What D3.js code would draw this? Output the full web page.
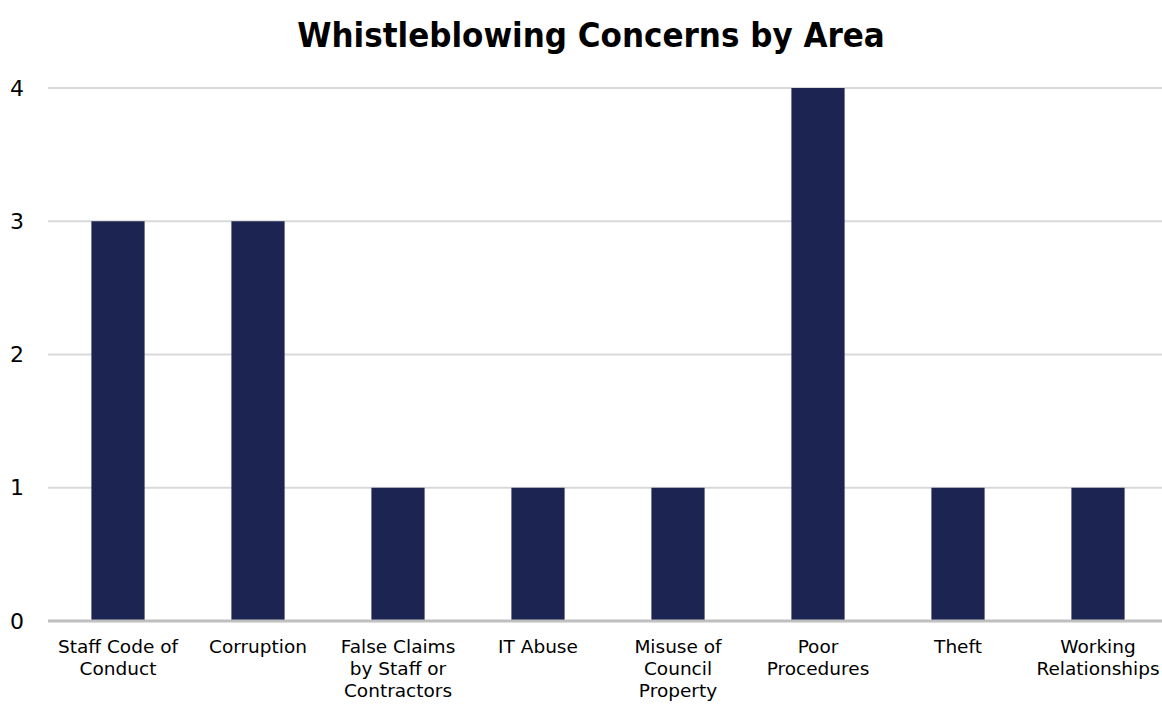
<!DOCTYPE html>
<html>
<head>
<meta charset="utf-8">
<script src="https://cdn.jsdelivr.net/npm/d3@7"></script>
<style>
  html, body { margin: 0; padding: 0; background: #ffffff; }
  svg { display: block; }
</style>
</head>
<body>
<svg id="chart" width="1162" height="704"></svg>
<script>
const title = "Whistleblowing Concerns by Area";
const categories = ["Staff Code of Conduct", "Corruption", "False Claims by Staff or Contractors", "IT Abuse", "Misuse of Council Property", "Poor Procedures", "Theft", "Working Relationships"];
const categoryLabelLines = [
  ["Staff Code of", "Conduct"],
  ["Corruption"],
  ["False Claims", "by Staff or", "Contractors"],
  ["IT Abuse"],
  ["Misuse of", "Council", "Property"],
  ["Poor", "Procedures"],
  ["Theft"],
  ["Working", "Relationships"]
];
const values = [3, 3, 1, 1, 1, 4, 1, 1];
const yTicks = [0, 1, 2, 3, 4];

const svg = d3.select("#chart");
const W = 1162, H = 704;
const margin = { left: 48, right: -6, top: 88, bottom: 83 };

const x = d3.scaleBand()
  .domain(categories)
  .range([margin.left, W - margin.right])
  .paddingInner(0.62)
  .paddingOuter(0.31);

const y = d3.scaleLinear()
  .domain([0, 4])
  .range([H - margin.bottom, margin.top]);

// gridlines
svg.append("g")
  .selectAll("line")
  .data(yTicks.filter(d => d !== 0))
  .join("line")
  .attr("x1", margin.left)
  .attr("x2", W)
  .attr("y1", d => y(d))
  .attr("y2", d => y(d))
  .attr("stroke", "#d9d9d9")
  .attr("stroke-width", 2);

// y axis labels
const yAxis = d3.axisLeft(y).tickValues(yTicks).tickSize(0).tickPadding(0).tickFormat(d3.format("d"));
const gy = svg.append("g").attr("transform", "translate(24,0)").call(yAxis);
gy.select(".domain").remove();
gy.selectAll("text")
  .attr("font-family", "DejaVu Sans, Verdana, sans-serif")
  .attr("font-size", 22)
  .attr("fill", "#000");

// bars
svg.append("g")
  .selectAll("rect")
  .data(values)
  .join("rect")
  .attr("x", (d, i) => x(categories[i]))
  .attr("width", x.bandwidth())
  .attr("y", d => y(d))
  .attr("height", d => y(0) - y(d))
  .attr("fill", "#1c2551");

// baseline
svg.append("line")
  .attr("x1", margin.left)
  .attr("x2", W)
  .attr("y1", y(0))
  .attr("y2", y(0))
  .attr("stroke", "#bfbfbf")
  .attr("stroke-width", 3);

// x axis labels
const xAxis = d3.axisBottom(x).tickSize(0).tickFormat(() => "");
const gx = svg.append("g").attr("transform", `translate(0,${y(0)})`).call(xAxis);
gx.select(".domain").remove();
gx.selectAll(".tick").each(function(d, i) {
  const t = d3.select(this).select("text")
    .attr("font-family", "DejaVu Sans, Verdana, sans-serif")
    .attr("font-size", 18.5)
    .attr("fill", "#000")
    .attr("text-anchor", "middle")
    .attr("y", 0)
    .attr("dy", null);
  t.selectAll("tspan")
    .data(categoryLabelLines[i])
    .join("tspan")
    .attr("x", 0)
    .attr("y", (l, j) => 32 + j * 22)
    .text(l => l);
});

// title
svg.append("text")
  .attr("x", 591)
  .attr("y", 47)
  .attr("text-anchor", "middle")
  .attr("font-family", "DejaVu Sans Condensed, DejaVu Sans, sans-serif")
  .attr("font-stretch", "condensed")
  .attr("font-weight", "bold")
  .attr("font-size", 34.5)
  .attr("fill", "#000")
  .text(title);
</script>
</body>
</html>
